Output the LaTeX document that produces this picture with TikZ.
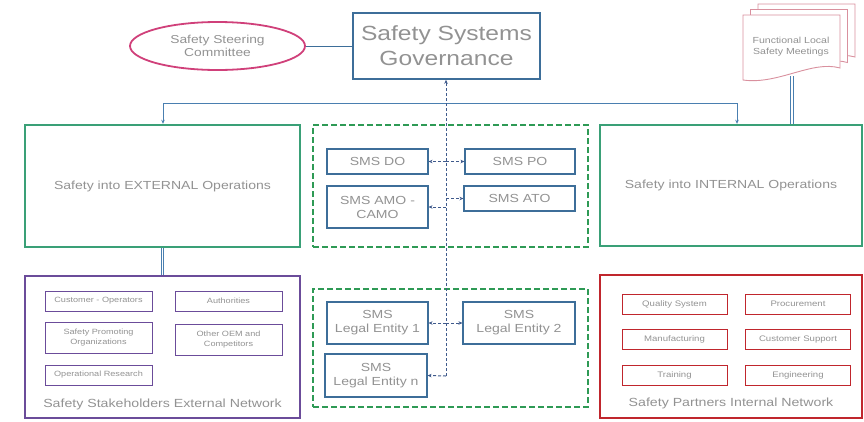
\documentclass[tikz,border=0pt]{standalone}
\usepackage{fontspec}
\setmainfont{Liberation Sans}[FakeStretch=1.2]
\usetikzlibrary{shapes.geometric,arrows.meta,calc}

\definecolor{txtgrey}{HTML}{929292}
\definecolor{govblue}{HTML}{3D6E99}
\definecolor{linkblue}{HTML}{4A7FB0}
\definecolor{spinecol}{HTML}{3F5A8C}
\definecolor{opgreen}{HTML}{3AA077}
\definecolor{dashgreen}{HTML}{2E9A55}
\definecolor{extpurple}{HTML}{6B4C9A}
\definecolor{intred}{HTML}{C0262D}
\definecolor{ellpink}{HTML}{D0407A}
\definecolor{docpink}{HTML}{D9909E}

\tikzset{
  lbl/.style={text=txtgrey, align=center, inner sep=0pt},
  govbox/.style={lbl, draw=govblue, line width=1.6pt, font=\fontsize{20.5}{25}\selectfont},
  opbox/.style={lbl, draw=opgreen, line width=2.4pt, font=\fontsize{11.7}{14}\selectfont},
  grpbox/.style={draw=dashgreen, line width=2pt, dash pattern=on 6pt off 3pt},
  smsbox/.style={lbl, draw=govblue, line width=1.1pt, font=\fontsize{11.7}{14}\selectfont},
  extnet/.style={draw=extpurple, line width=2.4pt},
  intnet/.style={draw=intred, line width=2.4pt},
  extitem/.style={lbl, draw=extpurple, line width=1pt, minimum width=107pt, font=\fontsize{7.6}{9.5}\selectfont},
  intitem/.style={lbl, draw=intred, line width=1pt, minimum width=105pt, minimum height=20pt, font=\fontsize{8}{9.5}\selectfont},
  netlabel/.style={lbl, font=\fontsize{11.8}{14}\selectfont},
  link/.style={draw=linkblue, line width=1pt, -{Stealth[length=4pt,width=3.5pt]}},
  spine/.style={draw=spinecol, line width=1pt, dash pattern=on 3pt off 2pt},
  spinetip/.style={-{Stealth[length=4pt,width=3.5pt]}},
  dbl/.style={draw=linkblue, double=white, double distance=1.6pt, line width=0.9pt},
  docsheet/.style={draw=docpink, fill=white, line width=0.9pt},
}

\begin{document}
\begin{tikzpicture}[x=1pt, y=-1pt]
\useasboundingbox (0,0) rectangle (864,421);

% top row: steering committee, governance, local meetings
\node[ellipse, draw=ellpink, line width=1.8pt, minimum width=175pt, minimum height=48pt,
      lbl, font=\fontsize{11.5}{13.5}\selectfont] (ell) at (217.5,46) {Safety Steering\\Committee};
\node[govbox, minimum width=187pt, minimum height=66pt] (gov) at (446.5,46) {Safety Systems\\Governance};
\draw[draw=govblue, line width=1pt] (ell.east) -- (gov.west);

% stacked documents, back sheet first
\foreach \dx/\dy in {15/-11, 7.5/-5.5, 0/0} {
  \draw[docsheet] ($(743,15)+(\dx,\dy)$) -- ++(97,0) -- ++(0,53)
    .. controls ++(-28,-8) and ++(35,5) .. ++(-97,12) -- cycle;
}
\node[lbl, font=\fontsize{8.8}{11}\selectfont] (docs) at (791,47) {Functional Local\\Safety Meetings};
\coordinate (docbot) at (792,76);

% middle row
\node[opbox, minimum width=275pt, minimum height=122pt] (ext) at (162.5,186) {Safety into EXTERNAL Operations};
\node[opbox, minimum width=262pt, minimum height=121pt] (int) at (731,185.5) {Safety into INTERNAL Operations};
\node[grpbox, minimum width=275pt, minimum height=122pt] (mid) at (450.5,186) {};

\node[smsbox, minimum width=101pt, minimum height=25pt] (do) at (377.5,161.5) {SMS DO};
\node[smsbox, minimum width=110pt, minimum height=25pt] (po) at (520,161.5) {SMS PO};
\node[smsbox, minimum width=101pt, minimum height=42pt] (amo) at (377.5,207) {SMS AMO -\\CAMO};
\node[smsbox, minimum width=111pt, minimum height=25pt] (ato) at (519.5,198.5) {SMS ATO};

% bottom row
\node[extnet, minimum width=275pt, minimum height=142pt] (xnet) at (162.5,347) {};
\node[intnet, minimum width=262pt, minimum height=143pt] (inet) at (731,346.5) {};
\node[grpbox, minimum width=275pt, minimum height=118pt] (mid2) at (450.5,348) {};

\node[smsbox, minimum width=101pt, minimum height=42pt] (le1) at (377.5,323) {SMS\\Legal Entity 1};
\node[smsbox, minimum width=112pt, minimum height=42pt] (le2) at (519,323) {SMS\\Legal Entity 2};
\node[smsbox, minimum width=102pt, minimum height=43pt] (len) at (376,375.5) {SMS\\Legal Entity n};

% external network members
\node[extitem, minimum height=20pt] (co) at (98.5,301) {Customer - Operators};
\node[extitem, minimum height=20pt] (au) at (228.5,301) {Authorities};
\node[extitem, minimum height=31pt] (spo) at (98.5,337.5) {Safety Promoting\\Organizations};
\node[extitem, minimum height=31pt] (oem) at (228.5,339.5) {Other OEM and\\Competitors};
\node[extitem, minimum height=20pt] (opr) at (98.5,375) {Operational Research};
\node[netlabel] (xlab) at (162.5,404) {Safety Stakeholders External Network};

% internal network members
\node[intitem] (qs) at (674.5,304) {Quality System};
\node[intitem] (pr) at (798,304) {Procurement};
\node[intitem] (mf) at (674.5,339.5) {Manufacturing};
\node[intitem] (cs) at (798,339.5) {Customer Support};
\node[intitem] (tr) at (674.5,375) {Training};
\node[intitem] (en) at (798,375) {Engineering};
\node[netlabel] (ilab) at (731,403) {Safety Partners Internal Network};

% distribution line to the operations boxes
\coordinate (hL) at (163,103);
\coordinate (hR) at (737,103);
\draw[link] (hL) -- (hL |- ext.north);
\draw[link] (hR) -- (hR |- int.north);
\draw[draw=linkblue, line width=1pt] (hL) -- (hR);

% governance spine through the SMS groups
\coordinate (sp) at (446,376);
\draw[spine, spinetip] (sp) -- (sp |- gov.south);
\draw[spine, spinetip] (sp) -- (len.east);
\draw[spine, spinetip] (sp |- do.east) -- (do.east);
\draw[spine, spinetip] (sp |- po.west) -- (po.west);
\draw[spine, spinetip] (446,207) -- (amo.east);
\draw[spine, spinetip] (sp |- ato.west) -- (ato.west);
\draw[spine, spinetip] (sp |- le1.east) -- (le1.east);
\draw[spine, spinetip] (sp |- le2.west) -- (le2.west);

% double links to the networks and the local meetings
\draw[dbl] (ext.south) -- (ext.south |- xnet.north);
\draw[dbl] ($(int.south)+(4,0)$) -- ($(int.south)+(4,0)$ |- inet.north);
\draw[dbl] (docbot) -- (docbot |- int.north);
\end{tikzpicture}
\end{document}
